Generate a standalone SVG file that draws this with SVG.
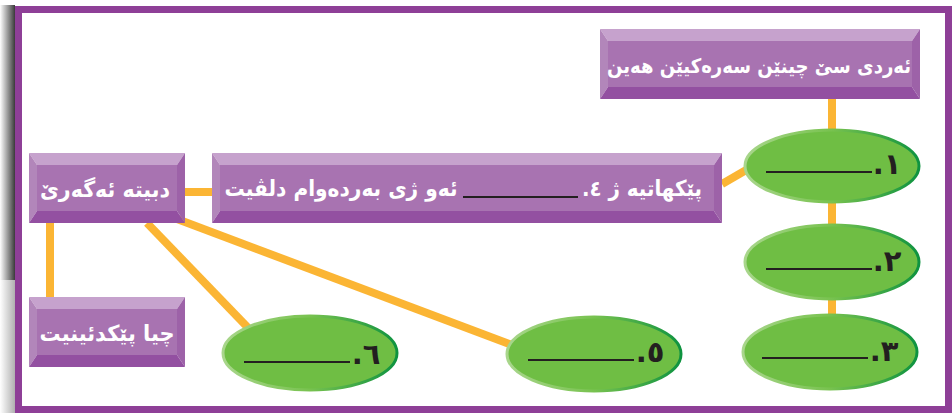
<svg xmlns="http://www.w3.org/2000/svg" width="952" height="413" viewBox="0 0 952 413">
<defs>
<style>
.bt{fill:#c6a2cd}.bl{fill:#b286ba}.br{fill:#9d62a8}.bb{fill:#9350a1}.bf{fill:#a873b1}
.lbl{font-family:"DejaVu Sans",sans-serif;font-weight:bold;fill:#ffffff;font-size:22px}
.num{font-family:"DejaVu Sans",sans-serif;font-weight:bold;fill:#231f20;font-size:29px}
.blank{stroke:#231f20;stroke-width:2}
.con{stroke:#fbb534;stroke-width:8;fill:none}
.ell{fill:#6fbe44;stroke:url(#rim);stroke-width:3}
.frame{fill:#8e3f97}
</style>
<linearGradient id="rim" x1="0" y1="0" x2="1" y2="0">
<stop offset="0" stop-color="#a9d68c"/><stop offset="0.5" stop-color="#78c24f"/><stop offset="1" stop-color="#0e9340"/>
</linearGradient>
<linearGradient id="shadow" x1="0" y1="0" x2="1" y2="0">
<stop offset="0" stop-color="#ffffff"/><stop offset="1" stop-color="#3a3a3a"/>
</linearGradient>
<linearGradient id="shadow2" x1="0" y1="0" x2="1" y2="0">
<stop offset="0" stop-color="#ffffff"/><stop offset="1" stop-color="#b0b0b0"/>
</linearGradient>
</defs>
<rect width="952" height="413" fill="#ffffff"/>
<g id="frame">
<rect x="0" y="5" width="15" height="275" fill="url(#shadow)"/>
<rect x="0" y="280" width="15" height="133" fill="url(#shadow2)"/>
<rect class="frame" x="15" y="6" width="937" height="7"/>
<rect class="frame" x="15" y="6" width="7" height="407"/>
<rect class="frame" x="15" y="406" width="937" height="7"/>
<rect class="frame" x="945" y="6" width="7" height="407"/>
</g>
<g id="connectors">
<line class="con" x1="832" y1="99" x2="832" y2="134"/>
<line class="con" x1="832" y1="198" x2="832" y2="228"/>
<line class="con" x1="832" y1="296" x2="832" y2="318"/>
<line class="con" x1="722" y1="184" x2="760" y2="162"/>
<line class="con" x1="185" y1="192" x2="212" y2="192"/>
<line class="con" x1="50" y1="223" x2="50" y2="297"/>
<line class="con" x1="147" y1="223" x2="256" y2="336"/>
<line class="con" x1="177" y1="219" x2="520" y2="348"/>
</g>
<g id="box-top">
<polygon class="bt" points="600,29 920,29 912,41 608,41"/>
<polygon class="bl" points="600,29 608,41 608,87 600,99"/>
<polygon class="br" points="920,29 920,99 912,87 912,41"/>
<polygon class="bb" points="600,99 608,87 912,87 920,99"/>
<rect class="bf" x="608" y="41" width="304" height="46"/>
<text class="lbl" x="759" y="73" text-anchor="middle" direction="rtl" style="font-size:20px" textLength="304" lengthAdjust="spacingAndGlyphs">ئەردی سێ چینێن سەرەکیێن هەین</text>
</g>
<g id="box-cause">
<polygon class="bt" points="29,153 185,153 177,165 37,165"/>
<polygon class="bl" points="29,153 37,165 37,211 29,223"/>
<polygon class="br" points="185,153 185,223 177,211 177,165"/>
<polygon class="bb" points="29,223 37,211 177,211 185,223"/>
<rect class="bf" x="37" y="165" width="140" height="46"/>
<text class="lbl" x="105" y="197" text-anchor="middle" direction="rtl" textLength="130" lengthAdjust="spacingAndGlyphs">دبیتە ئەگەرێ</text>
</g>
<g id="box-mountains">
<polygon class="bt" points="29,297 185,297 177,309 37,309"/>
<polygon class="bl" points="29,297 37,309 37,355 29,367"/>
<polygon class="br" points="185,297 185,367 177,355 177,309"/>
<polygon class="bb" points="29,367 37,355 177,355 185,367"/>
<rect class="bf" x="37" y="309" width="140" height="46"/>
<text class="lbl" x="107" y="341" text-anchor="middle" direction="rtl" textLength="135" lengthAdjust="spacingAndGlyphs">چیا پێکدئینیت</text>
</g>
<g id="box-mid">
<polygon class="bt" points="212,153 722,153 714,165 220,165"/>
<polygon class="bl" points="212,153 220,165 220,211 212,223"/>
<polygon class="br" points="722,153 722,223 714,211 714,165"/>
<polygon class="bb" points="212,223 220,211 714,211 722,223"/>
<rect class="bf" x="220" y="165" width="494" height="46"/>
<text class="lbl" x="642" y="196" text-anchor="middle" direction="rtl" textLength="120" lengthAdjust="spacingAndGlyphs">پێکهاتیە ژ ٤.</text>
<line class="blank" x1="463" y1="197" x2="578" y2="197"/>
<text class="lbl" x="341" y="196" text-anchor="middle" direction="rtl" textLength="233" lengthAdjust="spacingAndGlyphs">ئەو ژی بەردەوام دلڤیت</text>
</g>
<g id="ell-1">
<ellipse class="ell" cx="832" cy="166" rx="87" ry="36"/>
<line class="blank" x1="766" y1="172" x2="872" y2="172"/>
<text class="num" x="887" y="174" text-anchor="middle" direction="rtl">١.</text>
</g>
<g id="ell-2">
<ellipse class="ell" cx="832" cy="262" rx="87" ry="37"/>
<line class="blank" x1="766" y1="269" x2="872" y2="269"/>
<text class="num" x="887" y="271" text-anchor="middle" direction="rtl">٢.</text>
</g>
<g id="ell-3">
<ellipse class="ell" cx="830" cy="352" rx="87" ry="37"/>
<line class="blank" x1="762" y1="358" x2="868" y2="358"/>
<text class="num" x="884" y="361" text-anchor="middle" direction="rtl">٣.</text>
</g>
<g id="ell-5">
<ellipse class="ell" cx="594" cy="354" rx="87" ry="37"/>
<line class="blank" x1="528" y1="360" x2="634" y2="360"/>
<text class="num" x="650" y="362" text-anchor="middle" direction="rtl">٥.</text>
</g>
<g id="ell-6">
<ellipse class="ell" cx="310" cy="353" rx="87" ry="37"/>
<line class="blank" x1="244" y1="362" x2="350" y2="362"/>
<text class="num" x="366" y="364" text-anchor="middle" direction="rtl">٦.</text>
</g>
</svg>
